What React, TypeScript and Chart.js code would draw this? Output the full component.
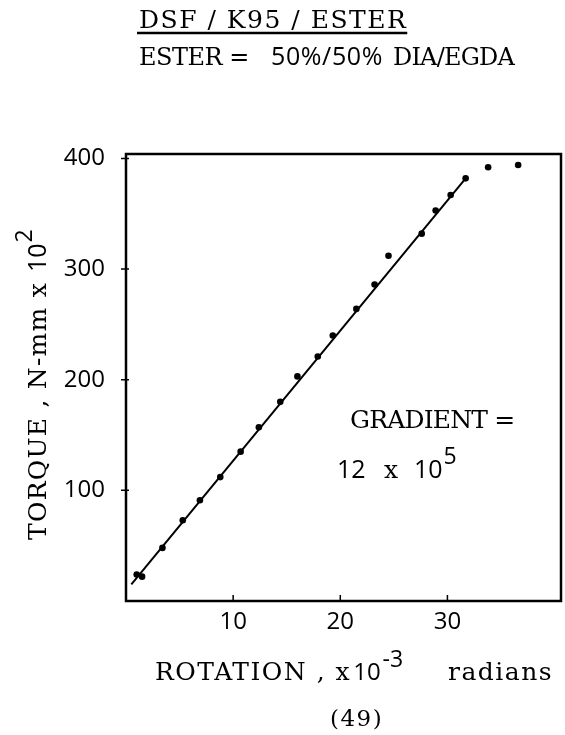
import React, { useEffect, useRef } from "react";
import { Chart, registerables } from "chart.js";

Chart.register(...registerables);

// ---- data ----
const rotation = [1.0, 1.5, 3.4, 5.3, 6.9, 8.8, 10.7, 12.4, 14.4, 16.0, 17.9, 19.3, 21.5, 23.2, 24.5, 27.6, 28.9, 30.3, 31.7, 33.8, 36.6];
const torque = [24, 22, 48, 73, 91, 112, 135, 157, 180, 203, 221, 240, 264, 286, 312, 332, 353, 367, 382, 392, 394];
const fitRotation = [0.5, 31.7];
const fitTorque = [15, 382];
const xTickValues = [10, 20, 30];
const yTickValues = [100, 200, 300, 400];
const xRange = [0, 40.6];
const yRange = [0, 404];

const titleText = "DSF / K95 / ESTER";
const subtitleParts = ["ESTER =", "50%/50%", "DIA/EGDA"];
const xTitleParts = ["ROTATION , x", "10", "-3", "radians"];
const yTitleParts = ["TORQUE , N-mm x", "10", "2"];
const gradientLabel = "GRADIENT =";
const gradientValueParts = ["12", "x", "10", "5"];
const pageLabel = "(49)";

const W = 565;
const H = 735;
const TYPE = '"DejaVu Serif", "Liberation Serif", serif';
const SANS = '"Open Sans", "Noto Sans", sans-serif';

// draws text with letter spacing nudged toward a target span (clamped); returns end x
function fitText(ctx: CanvasRenderingContext2D, text: string, font: string, x: number, y: number, width?: number) {
  ctx.font = font;
  (ctx as any).letterSpacing = "0px";
  let w = ctx.measureText(text).width;
  if (width) {
    let ls = (width - w) / text.length;
    ls = Math.max(-0.8, Math.min(1.5, ls));
    (ctx as any).letterSpacing = `${ls}px`;
    w = ctx.measureText(text).width;
  }
  ctx.fillText(text, x, y);
  (ctx as any).letterSpacing = "0px";
  return x + w;
}

const decorPlugin = {
  id: "decor",
  afterDraw(chart: any) {
    const ctx: CanvasRenderingContext2D = chart.ctx;
    const { left, right, top, bottom } = chart.chartArea;
    const xs = chart.scales.x;
    const ys = chart.scales.y;
    ctx.save();
    ctx.strokeStyle = "#000";
    ctx.fillStyle = "#000";
    ctx.lineWidth = 2.5;
    ctx.strokeRect(left, top, right - left, bottom - top);

    ctx.lineWidth = 1.5;
    ctx.beginPath();
    for (const v of xTickValues) {
      const px = xs.getPixelForValue(v);
      ctx.moveTo(px, bottom);
      ctx.lineTo(px, bottom - 6);
    }
    for (const v of yTickValues) {
      const py = ys.getPixelForValue(v);
      ctx.moveTo(left - 5, py);
      ctx.lineTo(left + 3, py);
    }
    ctx.stroke();

    ctx.textBaseline = "alphabetic";
    ctx.textAlign = "left";

    // main title with underline
    const tEnd = fitText(ctx, titleText, `25px ${TYPE}`, 139, 28, 278);
    ctx.lineWidth = 2.5;
    ctx.beginPath();
    ctx.moveTo(137, 33);
    ctx.lineTo(tEnd, 33);
    ctx.stroke();

    // subtitle
    const se = fitText(ctx, subtitleParts[0], `24px ${TYPE}`, 139, 65, 110);
    const pe = fitText(ctx, subtitleParts[1], `25px ${SANS}`, se + 22, 65, 112);
    fitText(ctx, subtitleParts[2], `24px ${TYPE}`, pe + 10, 65, 112);

    // x title
    let xe = fitText(ctx, xTitleParts[0], `25px ${TYPE}`, 155, 680, 202);
    ctx.font = `24px ${SANS}`;
    ctx.fillText(xTitleParts[1], xe + 2, 680);
    xe += 2 + ctx.measureText(xTitleParts[1]).width;
    ctx.font = `23px ${SANS}`;
    ctx.fillText(xTitleParts[2], xe + 2, 667);
    xe += 2 + ctx.measureText(xTitleParts[2]).width;
    fitText(ctx, xTitleParts[3], `25px ${TYPE}`, Math.max(xe + 30, 448), 680, 106);

    // page number
    fitText(ctx, pageLabel, `23px ${TYPE}`, 330, 726, 54);

    // y title (rotated)
    ctx.save();
    ctx.translate(46, 540);
    ctx.rotate(-Math.PI / 2);
    let ye = fitText(ctx, yTitleParts[0], `25px ${TYPE}`, 0, 0, 258);
    ctx.font = `25px ${SANS}`;
    ctx.fillText(yTitleParts[1], ye + 10, 0);
    ye += 10 + ctx.measureText(yTitleParts[1]).width;
    ctx.font = `23px ${SANS}`;
    ctx.fillText(yTitleParts[2], ye + 1, -14);
    ctx.restore();

    // gradient annotation
    fitText(ctx, gradientLabel, `25px ${TYPE}`, 350, 428, 162);
    ctx.font = `25px ${SANS}`;
    ctx.fillText(gradientValueParts[0], 337, 478);
    ctx.font = `25px ${TYPE}`;
    ctx.fillText(gradientValueParts[1], 384, 478);
    ctx.font = `25px ${SANS}`;
    ctx.fillText(gradientValueParts[2], 414, 478);
    const e10 = 414 + ctx.measureText(gradientValueParts[2]).width;
    ctx.font = `23px ${SANS}`;
    ctx.fillText(gradientValueParts[3], e10 + 1, 464);
    ctx.restore();
  },
};

export default function App() {
  const ref = useRef<HTMLCanvasElement | null>(null);
  useEffect(() => {
    if (!ref.current) return;
    const chart = new Chart(ref.current, {
      type: "scatter",
      data: {
        datasets: [
          {
            label: "fit",
            data: fitRotation.map((x, i) => ({ x, y: fitTorque[i] })),
            showLine: true,
            borderColor: "#000",
            borderWidth: 2,
            pointRadius: 0,
            fill: false,
          },
          {
            label: "measured",
            data: rotation.map((x, i) => ({ x, y: torque[i] })),
            backgroundColor: "#000",
            borderColor: "#000",
            pointRadius: 3.3,
            borderWidth: 0,
          },
        ],
      },
      options: {
        responsive: false,
        animation: false,
        layout: { padding: { left: 0, top: 154, right: 3, bottom: 0 } },
        plugins: {
          legend: { display: false },
          tooltip: { enabled: false },
          title: { display: false },
        },
        scales: {
          x: {
            type: "linear",
            position: "bottom",
            min: xRange[0],
            max: xRange[1],
            afterFit: (s: any) => {
              s.height = 134;
            },
            afterBuildTicks: (s: any) => {
              s.ticks = xTickValues.map((v) => ({ value: v }));
            },
            ticks: { color: "#000", font: { family: SANS, size: 24 }, padding: 7, maxRotation: 0, autoSkip: false },
            grid: { display: false, drawTicks: false },
            border: { display: false },
          },
          y: {
            type: "linear",
            position: "left",
            min: yRange[0],
            max: yRange[1],
            afterFit: (s: any) => {
              s.width = 126;
            },
            afterBuildTicks: (s: any) => {
              s.ticks = yTickValues.map((v) => ({ value: v }));
            },
            ticks: { color: "#000", font: { family: SANS, size: 24 }, padding: 21, autoSkip: false },
            grid: { display: false, drawTicks: false },
            border: { display: false },
          },
        },
      },
      plugins: [decorPlugin],
    } as any);
    return () => chart.destroy();
  }, []);
  return (
    <div style={{ position: "absolute", left: 0, top: 0, width: W, height: H, background: "#fff" }}>
      <canvas ref={ref} width={W} height={H} style={{ display: "block", width: W, height: H }} />
    </div>
  );
}
